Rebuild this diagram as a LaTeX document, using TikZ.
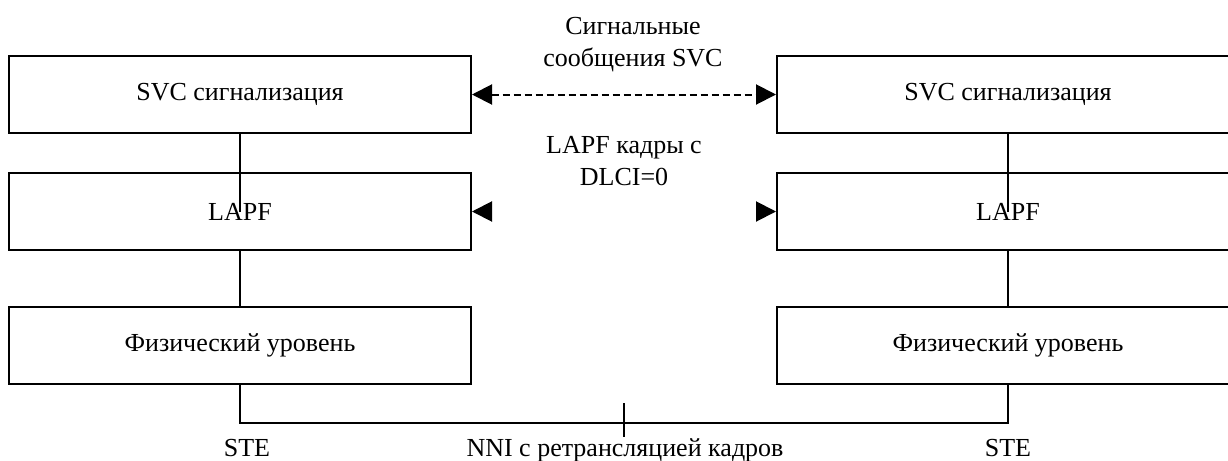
\documentclass[tikz,border=0pt]{standalone}
\usepackage{fontspec}
\setmainfont{Liberation Serif}
\usetikzlibrary{arrows.meta}
\begin{document}
\begin{tikzpicture}[x=0.5pt,y=-0.5pt,
  line width=1pt,
  layer/.style={draw,line width=1pt,minimum width=231pt,minimum height=38.5pt,inner sep=0pt,font=\fontsize{13pt}{15pt}\selectfont},
  lbl/.style={align=center,inner sep=0pt,font=\fontsize{13pt}{16pt}\selectfont},
  head/.style={-{Triangle[length=10pt,width=10pt]}},
  bihead/.style={{Triangle[length=10pt,width=10pt]}-{Triangle[length=10pt,width=10pt]}}
]
\clip (0,0) rectangle (1228,461);
\fill[white] (0,0) rectangle (1228,461);

% protocol stacks
\node[layer] (svcL)  at (240,94.5)  {SVC сигнализация};
\node[layer] (lapfL) at (240,211.5) {LAPF};
\node[layer] (physL) at (240,345.5) {Физический уровень};
\node[layer] (svcR)  at (1008,94.5)  {SVC сигнализация};
\node[layer] (lapfR) at (1008,211.5) {LAPF};
\node[layer] (physR) at (1008,345.5) {Физический уровень};

% links between layers
\draw (svcL.south) -- (svcL.south |- lapfL.center);
\draw (svcR.south) -- (svcR.south |- lapfR.center);
\draw (lapfL.south) -- (physL.north);
\draw (lapfR.south) -- (physR.north);

% peer signalling
\draw[bihead,dash pattern=on 3.5pt off 2pt] (svcL.east) -- (svcR.east -| svcR.west);
\coordinate (hl) at (491,211.5);
\coordinate (hr) at (757,211.5);
\draw[head] (hl) -- (lapfL.east);
\draw[head] (hr) -- (lapfR.west);

\node[lbl] (msg) at (633,45) {Сигнальные\\сообщения SVC};
\node[lbl] (frm) at (624,161) {LAPF кадры с\\DLCI=0};

% physical link
\coordinate (bl) at (240,423);
\coordinate (br) at (1008,423);
\draw (physL.south) -- (bl) -- (br) -- (physR.south);
\coordinate (tt) at (624,403);
\coordinate (tb) at (624,437);
\draw (tt) -- (tb);

\node[lbl,anchor=base] (steL) at (247,456) {STE};
\node[lbl,anchor=base] (nni) at (625,456) {NNI с ретрансляцией кадров};
\node[lbl,anchor=base] (steR) at (1008,456) {STE};
\end{tikzpicture}
\end{document}
